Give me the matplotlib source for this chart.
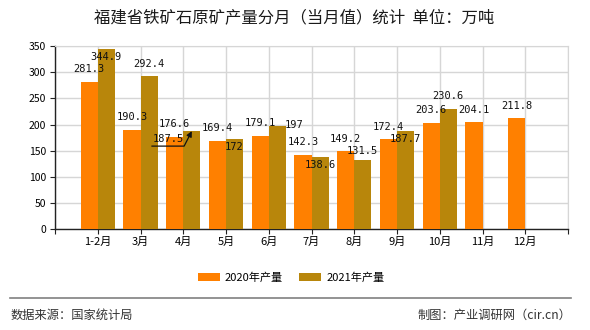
import matplotlib
matplotlib.use("Agg")
from matplotlib import pyplot as plt
from matplotlib.lines import Line2D
import numpy as np

plt.rcParams['font.family'] = ['Noto Sans CJK SC', 'DejaVu Sans']

months = ['1-2月', '3月', '4月', '5月', '6月', '7月', '8月', '9月', '10月', '11月', '12月']
prod_2020 = [281.3, 190.3, 176.6, 169.4, 179.1, 142.3, 149.2, 172.4, 203.6, 204.1, 211.8]
prod_2021 = [344.9, 292.4, 187.5, 172, 197, 138.6, 131.5, 187.7, 230.6]
yticks = [0, 50, 100, 150, 200, 250, 300, 350]

c2020 = '#FF8000'
c2021 = '#B8860B'

fig = plt.figure(figsize=(5.9, 3.3), dpi=100)
ax = fig.add_axes([55 / 590, 1 - 229.3 / 330, 513 / 590, 183.3 / 330])

x = np.arange(1, len(months) + 1)
w = 0.4
ax.bar(x - w / 2, prod_2020, width=w, color=c2020, zorder=3, label='2020年产量')
x21 = x[:len(prod_2021)]
ax.bar(x21 + w / 2, prod_2021, width=w, color=c2021, zorder=3, label='2021年产量')

ax.set_xlim(0, 12)
ax.set_ylim(0, 350)
ax.set_yticks(yticks)
ax.set_yticklabels([str(v) for v in yticks], fontsize=7.5)
ax.set_xticks(list(x) + [0, 12])
ax.set_xticklabels(months + ['', ''], fontsize=8)
ax.tick_params(axis='both', direction='out', length=3.6, width=0.8, color='#222222')
ax.tick_params(axis='x', pad=2)
ax.tick_params(axis='y', pad=3)

ax.grid(True, color='#d6d6d6', linewidth=1, zorder=0)
ax.set_axisbelow(True)
for s in ['top', 'right']:
    ax.spines[s].set_color('#d6d6d6')
for s in ['left', 'bottom']:
    ax.spines[s].set_color('#222222')
    ax.spines[s].set_linewidth(1)

PX = 72 / 100  # points per pixel
# label nudges in pixels (dx, dy); default is above the bar
nudge_2021 = {0: (0, -8), 2: (-23, -8), 3: (0, -7.5), 4: (17, 1),
              5: (0, -8), 6: (0, 9), 7: (0, -8)}
lab_font = dict(fontsize=7.5, family='DejaVu Sans Mono', color='#111111',
                ha='center', va='center', zorder=5)

for xi, v in zip(x, prod_2020):
    ax.annotate(f'{v:g}', (xi - w / 2, v), xytext=(0, 12.5 * PX),
                textcoords='offset points', **lab_font)
for i, (xi, v) in enumerate(zip(x21, prod_2021)):
    dx, dy = nudge_2021.get(i, (0, 12.5))
    ax.annotate(f'{v:g}', (xi + w / 2, v), xytext=(dx * PX, dy * PX),
                textcoords='offset points', **lab_font)

# leader arrow for the moved 4月 label
ax.annotate('', (x21[2] + w / 2, prod_2021[2]), xytext=(-40 * PX, -15 * PX),
            textcoords='offset points', zorder=6,
            arrowprops=dict(arrowstyle='-|>', color='#111111', lw=0.9,
                            mutation_scale=8, shrinkA=0, shrinkB=0,
                            connectionstyle='angle,angleA=0,angleB=63,rad=0'))

fig.text(294 / 590, 1 - 18 / 330, '福建省铁矿石原矿产量分月（当月值）统计  单位：万吨',
         fontsize=11.8, ha='center', va='center', color='#1a1a1a')

fig.legend(loc='center', bbox_to_anchor=(291 / 590, 1 - 277.5 / 330), ncol=2,
           frameon=False, fontsize=8, handlelength=2.0, handleheight=0.75,
           handletextpad=0.45, columnspacing=1.45)

fig.add_artist(Line2D([10 / 590, 571 / 590], [1 - 297.5 / 330] * 2,
                      transform=fig.transFigure, color='#808080', lw=1.2))
fig.text(11 / 590, 1 - 315.5 / 330, '数据来源：国家统计局', fontsize=8.8,
         ha='left', va='center', color='#333333')
fig.text(571 / 590, 1 - 315.5 / 330, '制图：产业调研网（cir.cn）', fontsize=8.8,
         ha='right', va='center', color='#333333')

plt.savefig('out.png', dpi=100)
